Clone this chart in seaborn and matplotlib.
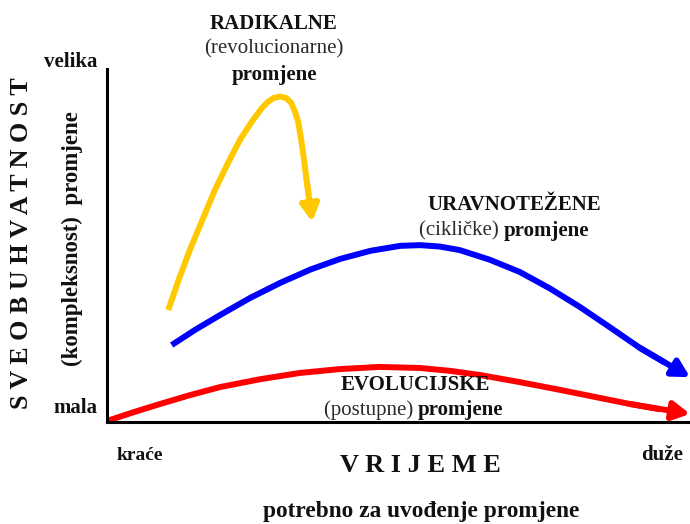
import numpy as np
import matplotlib.pyplot as plt
import seaborn as sns

# curves in chart units: x = time needed (0-100), y = comprehensiveness (0-100)
radical_x = [10.5, 12.3, 14.2, 16.4, 18.5, 20.7, 22.8, 24.8, 26.6, 27.6, 28.6, 29.7, 30.7, 31.6, 32.2, 32.8, 33.3, 33.8, 34.2, 34.6, 35.2]
radical_y = [31.7, 40.3, 48.7, 57.4, 65.7, 73.2, 79.9, 85.0, 89.0, 90.7, 91.8, 92.2, 91.8, 90.4, 88.1, 85.0, 80.0, 74.2, 69.0, 64.3, 56.7]

cyclic_x = [11.1, 15.2, 19.4, 24.5, 29.7, 34.9, 40.0, 45.2, 50.3, 53.7, 57.1, 60.5, 65.6, 70.8, 75.9, 81.1, 86.2, 91.4, 95.7, 100.0]
cyclic_y = [21.8, 26.2, 30.3, 35.1, 39.4, 43.2, 46.2, 48.5, 49.9, 50.1, 49.7, 48.7, 46.0, 42.5, 37.9, 32.6, 26.9, 21.0, 16.8, 12.7]

evol_x = [0.0, 4.6, 9.1, 14.2, 19.4, 26.2, 33.1, 40.0, 46.8, 53.7, 58.8, 64.0, 70.8, 77.7, 83.7, 89.7, 94.8, 100.0]
evol_y = [0.3, 2.8, 5.1, 7.6, 9.9, 12.1, 13.9, 15.0, 15.6, 15.3, 14.5, 13.3, 11.3, 9.1, 7.1, 5.1, 3.6, 2.3]

curves = [
    (radical_x, radical_y, "#FFC800"),
    (cyclic_x, cyclic_y, "#0000FF"),
    (evol_x, evol_y, "#FF0000"),
]

sns.set_style("white")
plt.rcParams["font.family"] = ["Liberation Serif", "DejaVu Serif"]

W, H = 690, 524
fig = plt.figure(figsize=(W / 100, H / 100), dpi=100)
ax = fig.add_axes([107 / W, 1 - 422 / H, (W - 107) / W, (422 - 69) / H])

for xs, ys, col in curves:
    sns.lineplot(x=xs[:-1], y=ys[:-1], color=col, linewidth=4.3, ax=ax,
                 sort=False, estimator=None, solid_capstyle="butt", solid_joinstyle="round")
    ax.annotate("", xy=(xs[-1], ys[-1]), xytext=(xs[-3], ys[-3]),
                arrowprops=dict(arrowstyle="-|>,head_length=1.0,head_width=0.55",
                                color=col, lw=4.3, shrinkA=0, shrinkB=0),
                annotation_clip=False)

ax.set_xlim(0, 100)
ax.set_ylim(0, 100)
ax.set_xticks([])
ax.set_yticks([])
sns.despine(ax=ax, top=True, right=True)
for s in ["left", "bottom"]:
    ax.spines[s].set_color("black")
    ax.spines[s].set_linewidth(2.2)
ax.set_facecolor("none")


def t(x, y, s, **kw):
    kw.setdefault("ha", "center")
    kw.setdefault("va", "center")
    kw.setdefault("fontsize", 15)
    kw.setdefault("color", "#111111")
    fig.text(x / W, 1 - y / H, s, **kw)


t(274, 24, "RADIKALNE", fontweight="bold")
t(274, 49, "(revolucionarne)", color="#2a2a2a")
t(274, 75, "promjene", fontweight="bold")

t(514, 205, "URAVNOTEŽENE", fontweight="bold")
t(504, 231, "(cikličke) ", ha="right", color="#2a2a2a")
t(504, 231, "promjene", ha="left", fontweight="bold")

t(415, 385, "EVOLUCIJSKE", fontweight="bold")
t(418, 410, "(postupne) ", ha="right", color="#2a2a2a")
t(418, 410, "promjene", ha="left", fontweight="bold")

t(71, 62, "velika", fontweight="bold")
t(75, 408, "mala", fontweight="bold")
t(140, 455, "kraće", fontweight="bold", fontsize=14)
t(662, 455, "duže", fontweight="bold")
t(420, 466, "V R I J E M E", fontweight="bold", fontsize=19)
t(421, 512, "potrebno za uvođenje promjene", fontweight="bold", fontsize=16.8)
t(22, 243, "S V E O B U H V A T N O S T", fontweight="bold", fontsize=18.8, rotation=90)
t(72, 239, "(kompleksnost)  promjene", fontweight="bold", fontsize=16.5, rotation=90)

fig.savefig("out.png", dpi=100)
